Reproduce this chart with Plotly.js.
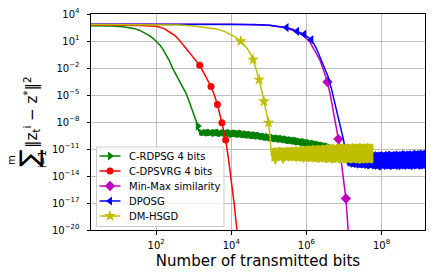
<!DOCTYPE html>
<html><head><meta charset="utf-8">
<script src="https://cdn.plot.ly/plotly-3.0.1.min.js"></script>
<style>body{margin:0;background:#fff;} #chart{width:432px;height:277px;}</style>
</head><body><div id="chart"></div>
<script>
// All values as log10 exponents (bits, error)
const seriesNames = ["C-RDPSG 4 bits", "C-DPSVRG 4 bits", "Min-Max similarity", "DPOSG", "DM-HSGD"];
const xTickLabels = ["10<sup>2</sup>", "10<sup>4</sup>", "10<sup>6</sup>", "10<sup>8</sup>"];
const xTickExp = [2, 4, 6, 8];
const yTickExp = [4, 1, -2, -5, -8, -11, -14, -17, -20];
const yTickLabels = ["10<sup>4</sup>", "10<sup>1</sup>", "10<sup>\u22122</sup>", "10<sup>\u22125</sup>", "10<sup>\u22128</sup>",
  "10<sup>\u221211</sup>", "10<sup>\u221214</sup>", "10<sup>\u221217</sup>", "10<sup>\u221220</sup>"];

// C-RDPSG 4 bits
const greenBitsExp = [0.267, 0.8, 1.11, 1.4, 1.555, 1.7, 1.82, 1.92, 2.0, 2.1, 2.18, 2.27, 2.355, 2.44, 2.53, 2.62, 2.71, 2.8, 2.87, 2.93, 3.0, 3.05, 3.11, 3.14];
const greenErrExp = [2.70, 2.68, 2.58, 2.4, 2.2, 1.9, 1.6, 1.3, 1.0, 0.55, 0.1, -0.55, -1.2, -2.05, -2.75, -3.4, -4.1, -4.85, -5.6, -6.3, -7.1, -7.8, -8.45, -9.1];
const greenBandBitsExp = [3.14,3.20,3.26,3.32,3.38,3.44,3.50,3.56,3.62,3.68,3.74,3.80,3.86,3.92,3.98,4.04,4.10,4.16,4.22,4.28,4.34,4.40,4.46,4.52,4.58,4.64,4.70,4.76,4.82,4.88,4.94,5.00,5.06,5.12,5.18,5.24,5.30,5.36,5.42,5.48,5.54,5.60,5.66,5.72,5.78,5.84,5.90,5.96,6.02,6.08,6.14,6.20,6.26,6.32,6.38,6.44,6.50,6.56,6.62];
const greenBandTopExp = [-8.8,-8.95,-8.85,-8.9,-8.8,-8.95,-8.85,-8.9,-8.8,-9.0,
  -8.85,-8.95,-8.9,-8.85,-9.0,-8.9,-8.95,-9.0,-8.9,-9.05,
  -9.0,-9.1,-9.05,-9.15,-9.1,-9.2,-9.15,-9.3,-9.25,-9.35,
  -9.3,-9.45,-9.4,-9.5,-9.45,-9.55,-9.5,-9.6,-9.55,-9.7,
  -9.65,-9.75,-9.7,-9.8,-9.85,-9.9,-9.85,-10.0,-9.95,-10.1,
  -10.05,-10.15,-10.15,-10.25,-10.25,-10.35,-10.35,-10.45,-10.5];
const greenBandBotExp = [-9.4,-9.5,-9.45,-9.55,-9.5,-9.45,-9.6,-9.5,-9.55,-9.6,
  -9.5,-9.65,-9.55,-9.6,-9.7,-9.6,-9.65,-9.7,-9.65,-9.75,
  -9.7,-9.8,-9.75,-9.85,-9.8,-9.9,-9.85,-9.95,-9.95,-10.05,
  -10.0,-10.1,-10.1,-10.2,-10.15,-10.25,-10.2,-10.3,-10.3,-10.4,
  -10.35,-10.45,-10.45,-10.55,-10.5,-10.6,-10.6,-10.7,-10.65,-10.75,
  -10.75,-10.85,-10.8,-10.9,-10.85,-10.95,-10.9,-11.0,-10.95];
const greenMarkBitsExp = [3.11];
const greenMarkErrExp = [-8.45];

// C-DPSVRG 4 bits
const redBitsExp = [0.267, 1.0, 1.6, 2.0, 2.2, 2.355, 2.5, 2.62, 2.75, 2.89, 3.0, 3.08, 3.16, 3.3, 3.46, 3.55, 3.63, 3.75, 3.85, 3.93, 4.0, 4.08, 4.15, 4.2];
const redErrExp = [2.80, 2.78, 2.72, 2.63, 2.4, 2.0, 1.6, 1.08, 0.4, -0.4, -0.95, -1.35, -1.7, -2.8, -4.05, -5.0, -6.05, -8.07, -10.0, -12.2, -14.3, -17.2, -20, -22];
const redMarkBitsExp = [3.16, 3.46, 3.63, 3.75, 3.85];
const redMarkErrExp = [-1.7, -4.05, -6.05, -8.07, -10.0];

// Min-Max similarity
const magBitsExp = [0.267, 4.0, 5.0, 5.47, 5.75, 5.94, 6.09, 6.22, 6.36, 6.46, 6.56, 6.64, 6.71, 6.78, 6.85, 6.92, 6.98, 7.05, 7.11, 7.15];
const magErrExp = [2.86, 2.85, 2.74, 2.45, 2.0, 1.55, 0.89, -0.1, -1.14, -2.3, -3.56, -5.1, -6.7, -8.3, -9.9, -12.2, -14.5, -16.5, -20, -22];
const magMarkBitsExp = [6.56, 6.85, 7.05];
const magMarkErrExp = [-3.56, -9.9, -16.5];

// DPOSG
const blueBitsExp = [0.267, 3.0, 4.0, 4.6, 5.02, 5.25, 5.47, 5.62, 5.75, 5.94, 6.13, 6.25, 6.36, 6.47, 6.58, 6.67, 6.76, 6.85, 6.93, 6.99, 7.04, 7.08];
const blueErrExp = [2.86, 2.86, 2.85, 2.82, 2.74, 2.63, 2.49, 2.3, 2.08, 1.74, 1.15, 0.3, -0.78, -1.9, -3.0, -4.4, -5.96, -7.5, -8.93, -10.03, -11.5, -12.6];
const blueBandBitsExp = [7.08,7.12,7.16,7.20,7.24,7.28,7.32,7.36,7.40,7.44,7.48,7.52,7.56,7.60,7.64,7.68,7.72,7.76,7.80,7.84,7.88,7.92,7.96,8.00,8.04,8.08,8.12,8.16,8.20,8.24,8.28,8.32,8.36,8.40,8.44,8.48,8.52,8.56,8.60,8.64,8.68,8.72,8.76,8.80,8.84,8.88,8.92,8.96,9.00,9.04,9.08,9.12,9.16,9.20];
const blueBandTopExp = [-12.0,-11.7,-11.6,-11.7,-11.5,-11.6,-11.55,-11.45,-11.6,-11.5,
  -11.45,-11.55,-11.4,-11.5,-11.45,-11.35,-11.5,-11.4,-11.45,-11.3,
  -11.45,-11.35,-11.4,-11.3,-11.45,-11.35,-11.3,-11.4,-11.25,-11.35,
  -11.4,-11.3,-11.35,-11.25,-11.4,-11.3,-11.35,-11.2,-11.3,-11.35,
  -11.25,-11.3,-11.2,-11.35,-11.25,-11.15,-11.3,-11.2,-11.25,-11.15,
  -11.25,-11.2,-11.15,-11.2];
const blueBandBotExp = [-12.7,-12.9,-12.85,-13.0,-12.9,-13.05,-12.95,-13.1,-13.0,-13.05,
  -13.1,-13.0,-13.15,-13.05,-13.2,-13.1,-13.05,-13.2,-13.1,-13.25,
  -13.1,-13.2,-13.35,-13.15,-13.1,-13.25,-13.15,-13.2,-13.1,-13.3,
  -13.15,-13.2,-13.1,-13.25,-13.15,-13.3,-13.1,-13.2,-13.15,-13.25,
  -13.1,-13.2,-13.15,-13.3,-13.1,-13.2,-13.15,-13.1,-13.25,-13.15,
  -13.2,-13.1,-13.15,-13.1];
const blueMarkBitsExp = [5.47, 5.75, 5.94, 6.13];
const blueMarkErrExp = [2.49, 2.08, 1.74, 1.15];

// DM-HSGD
const yelBitsExp = [0.267, 2.0, 2.6, 3.0, 3.3, 3.6, 3.8, 3.95, 4.1, 4.25, 4.4, 4.5, 4.58, 4.66, 4.74, 4.81, 4.87, 4.93, 4.99, 5.03, 5.06, 5.07];
const yelErrExp = [2.84, 2.83, 2.78, 2.66, 2.52, 2.33, 2.1, 1.8, 1.45, 0.97, 0.3, -0.35, -1.07, -2.1, -3.29, -4.5, -5.7, -6.9, -8.07, -9.5, -11.0, -11.8];
const yelBandBitsExp = [5.07,5.12,5.17,5.22,5.27,5.32,5.37,5.42,5.47,5.52,5.57,5.62,5.67,5.72,5.77,5.82,5.87,5.92,5.97,6.02,6.07,6.12,6.17,6.22,6.27,6.32,6.37,6.42,6.47,6.52,6.57,6.62,6.67,6.72,6.77,6.82,6.87,6.92,6.97,7.02,7.07,7.12,7.17,7.22,7.27,7.32,7.37,7.42,7.47,7.52,7.57,7.62,7.67,7.72,7.77];
const yelBandTopExp = [-11.0,-10.9,-10.85,-10.95,-10.8,-10.9,-10.85,-10.95,-10.8,-10.9,
  -10.85,-10.8,-10.9,-10.75,-10.85,-10.8,-10.7,-10.8,-10.75,-10.7,
  -10.65,-10.75,-10.6,-10.7,-10.65,-10.6,-10.7,-10.55,-10.65,-10.6,
  -10.5,-10.6,-10.55,-10.5,-10.6,-10.45,-10.55,-10.5,-10.45,-10.55,
  -10.5,-10.45,-10.55,-10.4,-10.5,-10.45,-10.5,-10.4,-10.5,-10.45,
  -10.5,-10.4,-10.5,-10.45,-10.5];
const yelBandBotExp = [-12.4,-12.2,-12.7,-12.25,-12.3,-12.15,-12.6,-12.3,-12.2,-12.35,
  -12.25,-12.3,-12.2,-12.4,-12.25,-12.35,-12.3,-12.45,-12.3,-12.35,
  -12.4,-12.3,-12.45,-12.35,-12.4,-12.5,-12.35,-12.45,-12.4,-12.5,
  -12.45,-12.4,-12.55,-12.45,-12.5,-12.4,-12.55,-12.5,-12.45,-12.55,
  -12.5,-12.45,-12.55,-12.5,-12.45,-12.55,-12.5,-12.6,-12.5,-12.55,
  -12.5,-12.55,-12.45,-12.55,-12.5];
const yelMarkBitsExp = [4.25, 4.58, 4.74, 4.87, 4.99];
const yelMarkErrExp = [0.97, -1.07, -3.29, -5.7, -8.07];

// ---- styling ----
const colors = ["#008000", "#ff0000", "#bf00bf", "#0000ff", "#bfbf00"];
const symbols = ["triangle-right", "circle", "diamond", "triangle-left", "star"];
const msizes = [8, 7, 8, 8, 9];

const p = a => a.map(e => Math.pow(10, e));
const rev = a => a.slice().reverse();

const series = [
  {bits: greenBitsExp, err: greenErrExp, band: [greenBandBitsExp, greenBandTopExp, greenBandBotExp], mb: greenMarkBitsExp, me: greenMarkErrExp},
  {bits: redBitsExp, err: redErrExp, band: null, mb: redMarkBitsExp, me: redMarkErrExp},
  {bits: magBitsExp, err: magErrExp, band: null, mb: magMarkBitsExp, me: magMarkErrExp},
  {bits: blueBitsExp, err: blueErrExp, band: [blueBandBitsExp, blueBandTopExp, blueBandBotExp], mb: blueMarkBitsExp, me: blueMarkErrExp},
  {bits: yelBitsExp, err: yelErrExp, band: [yelBandBitsExp, yelBandTopExp, yelBandBotExp], mb: yelMarkBitsExp, me: yelMarkErrExp}
];

const traces = [];
series.forEach((s, i) => {
  if (s.band) {
    traces.push({x: p(s.band[0].concat(rev(s.band[0]))), y: p(s.band[1].concat(rev(s.band[2]))),
      mode: "lines", fill: "toself", fillcolor: colors[i], showlegend: false, hoverinfo: "skip",
      line: {color: colors[i], width: 1}});
  }
  traces.push({x: p(s.bits), y: p(s.err), mode: "lines", showlegend: false, hoverinfo: "skip",
    line: {color: colors[i], width: 1.5}});
  traces.push({x: p(s.mb), y: p(s.me), mode: "markers", showlegend: false,
    marker: {color: colors[i], symbol: symbols[i], size: msizes[i], line: {width: 0}}});
});

// ---- legend (drawn in pixel-like coordinates of an overlay axis pair) ----
const legRowY = [156, 171, 186, 201, 216];
const legBox = {x0: 96.5, x1: 224, y0: 147, y1: 226.5};
const legLineX = [99.5, 120.5], legMarkX = 110, legTextX = 127;

traces.push({x: [legBox.x0, legBox.x1, legBox.x1, legBox.x0, legBox.x0],
  y: [legBox.y0, legBox.y0, legBox.y1, legBox.y1, legBox.y0],
  xaxis: "x2", yaxis: "y2", mode: "lines", fill: "toself", fillcolor: "rgba(255,255,255,0.8)",
  line: {color: "#cccccc", width: 1}, showlegend: false, hoverinfo: "skip"});
const legendAnn = [];
seriesNames.forEach((n, i) => {
  traces.push({x: legLineX, y: [legRowY[i], legRowY[i]], xaxis: "x2", yaxis: "y2", mode: "lines",
    line: {color: colors[i], width: 1.5}, showlegend: false, hoverinfo: "skip"});
  traces.push({x: [legMarkX], y: [legRowY[i]], xaxis: "x2", yaxis: "y2", mode: "markers",
    marker: {color: colors[i], symbol: symbols[i], size: msizes[i], line: {width: 0}}, showlegend: false, hoverinfo: "skip"});
  legendAnn.push({xref: "x2", yref: "y2", x: legTextX, y: legRowY[i], xanchor: "left", yanchor: "middle",
    text: n, showarrow: false, font: {family: "DejaVu Sans", size: 10, color: "#000"}});
});

const axisCommon = {
  type: "log", showgrid: true, gridcolor: "#b0b0b0", gridwidth: 0.8,
  showline: true, mirror: true, linecolor: "#000", linewidth: 1,
  ticks: "outside", ticklen: 3.5, tickcolor: "#000", zeroline: false,
  tickfont: {family: "DejaVu Sans", size: 10, color: "#000"}, tickmode: "array"
};

const yTitleFont = {family: "DejaVu Sans", color: "#000"};
const yTitleAnn = [
  {x: -0.1796, y: 0.546, size: 15, text: "\u2016z<sub>t</sub><sup>i</sup> \u2212 z<sup>*</sup>\u2016<sup>2</sup>"},
  {x: -0.187, y: 0.331, size: 26, text: "\u2211"},
  {x: -0.2395, y: 0.324, size: 10, text: "m"},
  {x: -0.1437, y: 0.329, size: 10, text: "i=1"}
].map(a => ({xref: "paper", yref: "paper", x: a.x, y: a.y, xanchor: "center", yanchor: "middle",
  textangle: -90, showarrow: false, text: a.text, font: Object.assign({size: a.size}, yTitleFont)}));

const layout = {
  width: 432, height: 277,
  margin: {l: 91, r: 7, t: 14, b: 47},
  paper_bgcolor: "#fff", plot_bgcolor: "#fff",
  font: {family: "DejaVu Sans", color: "#000"},
  showlegend: false,
  xaxis: Object.assign({}, axisCommon, {
    range: [0.267, 9.155], tickvals: p(xTickExp), ticktext: xTickLabels, ticklabelstandoff: 2,
    title: {text: "Number of transmitted bits", font: {size: 15, family: "DejaVu Sans"}, standoff: 5}
  }),
  yaxis: Object.assign({}, axisCommon, {
    range: [-20, 4], tickvals: p(yTickExp), ticktext: yTickLabels, ticklabelstandoff: 5
  }),
  xaxis2: {overlaying: "x", anchor: "y2", range: [91, 425], visible: false, showgrid: false, zeroline: false},
  yaxis2: {overlaying: "y", anchor: "x2", range: [230, 14], visible: false, showgrid: false, zeroline: false},
  annotations: yTitleAnn.concat(legendAnn)
};

Plotly.newPlot("chart", traces, layout, {staticPlot: true, displayModeBar: false});
</script></body></html>
